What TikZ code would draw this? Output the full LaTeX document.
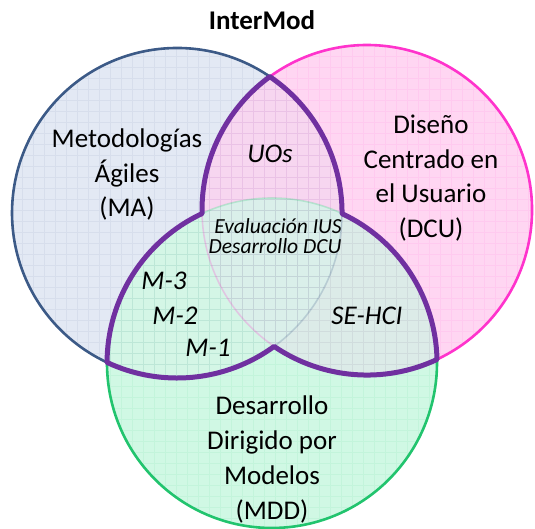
\documentclass[tikz,border=0pt]{standalone}
\usepackage{fontspec}
\setmainfont{Carlito}
\begin{document}
\begin{tikzpicture}[x=1pt,y=1pt]
% colours
\definecolor{maLine}{HTML}{3C5A87}
\definecolor{dcuLine}{HTML}{FF33CC}
\definecolor{mddLine}{HTML}{22C46E}
\definecolor{maFill}{HTML}{E3E9F4}
\definecolor{dcuFill}{HTML}{FFD6F2}
\definecolor{mddFill}{HTML}{D0F8E4}
\definecolor{maDcuFill}{HTML}{F7D6F0}
\definecolor{maMddFill}{HTML}{D4F6E6}
\definecolor{dcuMddFill}{HTML}{DCEBE8}
\definecolor{allFill}{HTML}{DAEFEA}
\definecolor{interLine}{HTML}{7030A0}
\tikzset{
  setlabel/.style={anchor=base, inner sep=0pt, font=\fontsize{27}{34}\selectfont},
  itlabel/.style={anchor=base, inner sep=0pt, font=\fontsize{27}{34}\selectfont\itshape},
  smalllabel/.style={anchor=base, inner sep=0pt, font=\fontsize{21.5}{20}\selectfont\itshape},
  titlelabel/.style={anchor=base, inner sep=0pt, font=\fontsize{27}{34}\selectfont\bfseries},
  gridlines/.style={line width=0.6pt, draw opacity=0.07},
  strongarc/.style={line width=2.6pt},
  faintarc/.style={line width=1.6pt, draw opacity=0.22},
  interline/.style={draw=interLine, line width=5pt, line join=round}
}
\useasboundingbox (0,0) rectangle (535,529);

% circle centres
\coordinate (cA) at (177,316);
\coordinate (cD) at (367,319);
\coordinate (cM) at (272,166);

% plain fills, one set over another
\fill[maFill] (cA) circle[radius=165pt];
\fill[dcuFill] (cD) circle[radius=165pt];
\fill[mddFill] (cM) circle[radius=165pt];
% overlap fills
\begin{scope}
  \clip (cA) circle[radius=165pt];
  \fill[maDcuFill] (cD) circle[radius=165pt];
  \fill[maMddFill] (cM) circle[radius=165pt];
\end{scope}
\begin{scope}
  \clip (cD) circle[radius=165pt];
  \fill[dcuMddFill] (cM) circle[radius=165pt];
  \clip (cA) circle[radius=165pt];
  \fill[allFill] (cM) circle[radius=165pt];
\end{scope}

% fine mesh texture in each set
\begin{scope}
  \clip (cA) circle[radius=165pt];
  \draw[gridlines, maLine] (0,0) grid[step=11pt] (535,529);
\end{scope}
\begin{scope}
  \clip (cD) circle[radius=165pt];
  \draw[gridlines, dcuLine] (0,0) grid[step=11pt] (535,529);
\end{scope}
\begin{scope}
  \clip (cM) circle[radius=165pt];
  \draw[gridlines, mddLine] (0,0) grid[step=11pt] (535,529);
\end{scope}

% faint inner outlines
\draw[faintarc, maLine] (cA) circle[radius=165pt];
\draw[faintarc, dcuLine] (cD) circle[radius=165pt];
\draw[faintarc, mddLine] (cM) circle[radius=165pt];

% outer outlines
\draw[strongarc, maLine] ([shift={(55.74:165pt)}]cA) arc[start angle=55.74, end angle=244.9, radius=165pt];
\draw[strongarc, dcuLine] ([shift={(-64.9:165pt)}]cD) arc[start angle=-64.9, end angle=126.05, radius=165pt];
\draw[strongarc, mddLine] ([shift={(179.8:165pt)}]cM) arc[start angle=179.8, end angle=361.25, radius=165pt];

% outline of the pairwise overlaps
\draw[interline] ([shift={(126.05:165pt)}]cD)
  arc[start angle=126.05, end angle=181.25, radius=165pt]
  arc[start angle=115.1, end angle=179.8, radius=165pt]
  arc[start angle=244.9, end angle=306.05, radius=165pt]
  arc[start angle=235.74, end angle=295.1, radius=165pt]
  arc[start angle=1.25, end angle=64.9, radius=165pt]
  arc[start angle=-0.2, end angle=55.74, radius=165pt]
  -- cycle;

% labels
\node[titlelabel] (title) at (262,499.5) {InterMod};

\node[setlabel] (ma1) at (127,381) {Metodologías};
\node[setlabel] (ma2) at (127,346.5) {Ágiles};
\node[setlabel] (ma3) at (127,312) {(MA)};

\node[setlabel] (dcu1) at (431,395) {Diseño};
\node[setlabel] (dcu2) at (431,360.5) {Centrado en};
\node[setlabel] (dcu3) at (431,326) {el Usuario};
\node[setlabel] (dcu4) at (431,291.5) {(DCU)};

\node[setlabel] (mdd1) at (272,114) {Desarrollo};
\node[setlabel] (mdd2) at (272,79) {Dirigido por};
\node[setlabel] (mdd3) at (272,44.5) {Modelos};
\node[setlabel] (mdd4) at (272,9.5) {(MDD)};

\node[itlabel] (uos) at (270,366) {UOs};
\node[smalllabel] (eval) at (278,295) {Evaluación IUS};
\node[smalllabel] (desdcu) at (275,275) {Desarrollo DCU};
\node[itlabel] (m3) at (164,239) {M-3};
\node[itlabel] (m2) at (175,204) {M-2};
\node[itlabel] (m1) at (208,172) {M-1};
\node[itlabel] (sehci) at (367,204) {SE-HCI};
\end{tikzpicture}
\end{document}
